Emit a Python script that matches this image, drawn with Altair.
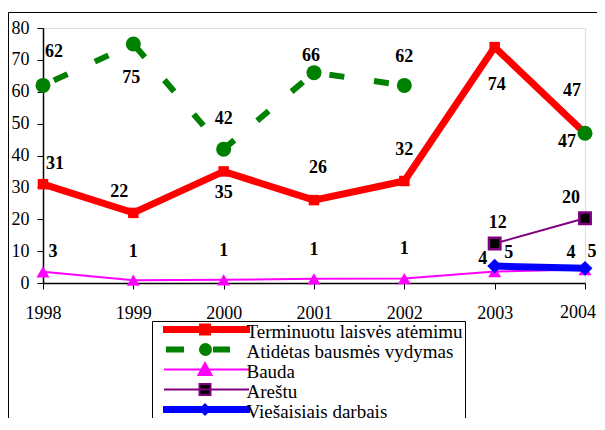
import altair as alt
import pandas as pd

# ---------------- data ----------------
years = [1998, 1999, 2000, 2001, 2002, 2003, 2004]
series_names = [
    "Terminuotu laisvės atėmimu",
    "Atidėtas bausmės vydymas",
    "Bauda",
    "Areštu",
    "Viešaisiais darbais",
]
terminuotu = [31, 22, 35, 26, 32, 74, 47]
atidetas = [62, 75, 42, 66, 62, None, 47]
bauda = [3.5, 0.9, 1.0, 1.3, 1.4, 3.6, 4.2]
arestu = [None, None, None, None, None, 12.4, 20.3]
viesieji = [None, None, None, None, None, 5.3, 4.6]

terminuotu_labels = ["31", "22", "35", "26", "32", "74", "47"]
atidetas_labels = ["62", "75", "42", "66", "62", None, "47"]
bauda_labels = ["3", "1", "1", "1", "1", "4", "4"]
arestu_labels = [None, None, None, None, None, "12", "20"]
viesieji_labels = [None, None, None, None, None, "5", "5"]

# label placement (pixel offsets of each data label from its point)
terminuotu_off = [(12, -20), (-14, -21), (0, 22), (4, -32), (0, -31), (2, 38), (-13, -42)]
atidetas_off = [(11, -33), (-2, 34), (0, -30), (-3, -17), (0, -28), (0, 0), (-18, 9)]
bauda_off = [(10, -20), (0, -28), (0, -29), (0, -29), (0, -30), (-12, -13), (-14, -17)]
arestu_off = [(0, 0)] * 5 + [(3, -20), (-14, -20)]
viesieji_off = [(0, 0)] * 5 + [(14, -13), (7, -16)]

colors = ["#FF0000", "#008000", "#FF00FF", "#800080", "#0000FF"]

FONT = "Liberation Serif, Times New Roman, serif"
LAST_YEAR = years[-1]


def frame(vals):
    return pd.DataFrame({"year": years, "value": vals})


x_enc = alt.X(
    "year:Q",
    scale=alt.Scale(domain=[1998, 2004], nice=False, zero=False),
    axis=alt.Axis(
        values=years, format="d", title=None, grid=False, tickSize=6,
        labelPadding=15, labelFontSize=18, labelFont=FONT, labelColor="black",
        domainColor="black", domainWidth=1.5, tickColor="black", tickWidth=1,
        labelFlush=False,
        labelExpr=f"datum.value == {LAST_YEAR} ? '' : datum.label",
    ),
)
y_enc = alt.Y(
    "value:Q",
    scale=alt.Scale(domain=[0, 80], nice=False),
    axis=alt.Axis(
        values=list(range(0, 81, 10)), title=None, grid=False, tickSize=6,
        labelPadding=8, labelFontSize=18, labelFont=FONT, labelColor="black",
        domainColor="black", domainWidth=1.5, tickColor="black", tickWidth=1,
        labelFlush=False,
    ),
)

layers = []

# Terminuotu laisvės atėmimu
d = frame(terminuotu)
layers.append(alt.Chart(d).mark_line(color=colors[0], strokeWidth=7).encode(x=x_enc, y=y_enc))
layers.append(alt.Chart(d).mark_point(shape="square", filled=True, opacity=1, color=colors[0], size=110, strokeWidth=0).encode(x=x_enc, y=y_enc))

# Atidėtas bausmės vydymas
d = frame(atidetas)
layers.append(alt.Chart(d).mark_line(color=colors[1], strokeWidth=6, strokeDash=[15, 30], strokeDashOffset=-12).encode(x=x_enc, y=y_enc))
layers.append(alt.Chart(d).mark_point(shape="circle", filled=True, opacity=1, color=colors[1], size=225, strokeWidth=0).encode(x=x_enc, y=y_enc))

# Bauda
d = frame(bauda)
layers.append(alt.Chart(d).mark_line(color=colors[2], strokeWidth=2).encode(x=x_enc, y=y_enc))
layers.append(alt.Chart(d).mark_point(shape="triangle-up", filled=True, opacity=1, color=colors[2], size=170, strokeWidth=0).encode(x=x_enc, y=y_enc))

# Areštu
d = frame(arestu)
layers.append(alt.Chart(d).mark_line(color=colors[3], strokeWidth=2).encode(x=x_enc, y=y_enc))
layers.append(alt.Chart(d).mark_point(shape="square", filled=True, opacity=1, fill="black", stroke=colors[3], strokeWidth=2.5, size=130).encode(x=x_enc, y=y_enc))

# Viešaisiais darbais
d = frame(viesieji)
layers.append(alt.Chart(d).mark_line(color=colors[4], strokeWidth=7).encode(x=x_enc, y=y_enc))
layers.append(alt.Chart(d).mark_point(shape="diamond", filled=True, opacity=1, color=colors[4], size=220, strokeWidth=0).encode(x=x_enc, y=y_enc))

# data labels: one small text layer per label, offset from its point
for vals, labels, offs in [
    (terminuotu, terminuotu_labels, terminuotu_off),
    (atidetas, atidetas_labels, atidetas_off),
    (bauda, bauda_labels, bauda_off),
    (arestu, arestu_labels, arestu_off),
    (viesieji, viesieji_labels, viesieji_off),
]:
    for yr, v, t, o in zip(years, vals, labels, offs):
        if v is None or t is None:
            continue
        dl = pd.DataFrame({"year": [yr], "value": [v], "label": [t]})
        layers.append(
            alt.Chart(dl).mark_text(
                font=FONT, fontSize=18, fontWeight="bold", color="black",
                baseline="middle", align="center", dx=o[0], dy=o[1],
            ).encode(x=x_enc, y=y_enc, text="label:N")
        )

# last x tick label, nudged left so it stays inside the page
last_tick = pd.DataFrame({"year": [LAST_YEAR], "value": [0], "label": [str(LAST_YEAR)]})
layers.append(
    alt.Chart(last_tick).mark_text(
        font=FONT, fontSize=18, color="black", baseline="top", align="right", dx=11, dy=21,
    ).encode(x=x_enc, y=y_enc, text="label:N")
)

# legend symbols: line + marker drawn as custom symbol paths
U = 8.5  # px per path unit (symbol size 289)
L0 = 1.0  # line left, px from symbol anchor
LW = 85.0  # line length
MX = L0 + 41.0  # marker centre
YS = -2.5


def p(v):
    return f"{v / U:.3f}"


def guard():
    # move-to at the entry's left edge so the symbol bounds start there
    return f"M{p(-9.5)},{p(YS)}"


def rect(x1, x2, h):
    return f"M{p(x1)},{p(YS - h)}L{p(x2)},{p(YS - h)}L{p(x2)},{p(YS + h)}L{p(x1)},{p(YS + h)}Z"


def seg(x1, x2):
    return f"M{p(x1)},{p(YS)}L{p(x2)},{p(YS)}"


def square(cx, h):
    return rect(cx - h, cx + h, h)


def circle(cx, r):
    return (f"M{p(cx - r)},{p(YS)}A{p(r)},{p(r)} 0 1 0 {p(cx + r)},{p(YS)}"
            f"A{p(r)},{p(r)} 0 1 0 {p(cx - r)},{p(YS)}Z")


def triangle(cx, h):
    return f"M{p(cx)},{p(YS - h)}L{p(cx + h)},{p(YS + h * 0.85)}L{p(cx - h)},{p(YS + h * 0.85)}Z"


def diamond(cx, h):
    return f"M{p(cx)},{p(YS - h)}L{p(cx + h)},{p(YS)}L{p(cx)},{p(YS + h)}L{p(cx - h)},{p(YS)}Z"


paths = [
    guard() + rect(L0, L0 + LW, 2.5) + square(MX, 5),
    guard() + rect(L0 + 3, L0 + 19, 2) + circle(MX + 0.5, 5.5) + rect(L0 + 50, L0 + 65, 2),
    guard() + seg(L0, L0 + LW) + triangle(MX, 6.5),
    guard() + seg(L0, L0 + LW) + square(MX, 5.5),
    guard() + rect(L0, L0 + LW, 2.5) + diamond(MX, 5),
]
fills = [colors[0], colors[1], colors[2], "black", colors[4]]

legend_df = pd.DataFrame({"series": series_names})
leg = alt.Legend(
    title=None, orient="none", legendX=109, legendY=293, padding=1.5,
    strokeColor="black", fillColor="white", labelFont=FONT, labelFontSize=19,
    labelColor="black", labelLimit=500, labelOffset=74, rowPadding=-5.5,
    symbolSize=289, symbolStrokeWidth=2, symbolOpacity=1,
)
layers.append(
    alt.Chart(legend_df).transform_filter("false").mark_point(filled=True, opacity=1).encode(
        fill=alt.Fill("series:N", scale=alt.Scale(domain=series_names, range=fills), legend=leg),
        stroke=alt.Stroke("series:N", scale=alt.Scale(domain=series_names, range=colors), legend=leg),
        shape=alt.Shape("series:N", scale=alt.Scale(domain=series_names, range=paths), legend=leg),
    )
)

# outer frame lines
one = pd.DataFrame({"a": [0]})
layers.append(alt.Chart(one).mark_rule(color="black", strokeWidth=1).encode(x=alt.value(-34.5), y=alt.value(-15.5), y2=alt.value(700)))
layers.append(alt.Chart(one).mark_rule(color="black", strokeWidth=1).encode(x=alt.value(-34.5), x2=alt.value(900), y=alt.value(-15.5)))

chart = alt.layer(*layers).properties(
    width=542, height=255,
    padding={"left": 35, "top": 20, "right": 12, "bottom": 135},
    autosize=alt.AutoSizeParams(type="none"),
    background="white",
).configure_view(stroke="#808080", strokeWidth=2).configure(font=FONT)

chart.save("out.html", embed_options={"renderer": "svg", "actions": False})
